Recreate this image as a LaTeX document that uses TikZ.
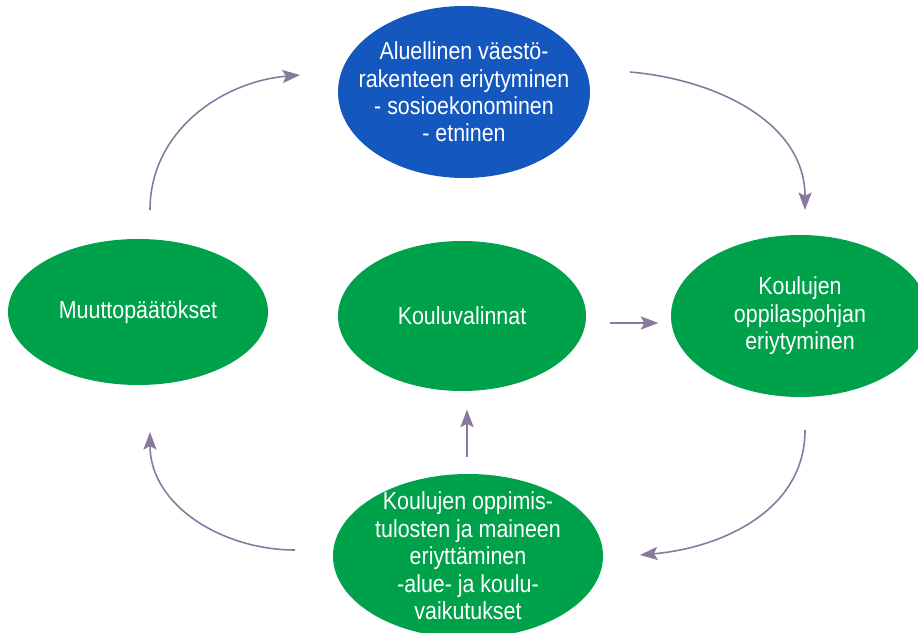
\documentclass[tikz,border=0pt]{standalone}
\usepackage{fontspec}
\setmainfont{Liberation Sans}[FakeStretch=0.87]
\usetikzlibrary{shapes.geometric,arrows.meta}
\definecolor{blueball}{RGB}{20,87,190}
\definecolor{greenball}{RGB}{0,161,75}
\definecolor{arrowgrey}{RGB}{136,122,158}
\begin{document}
\begin{tikzpicture}[
			x=0.02cm, y=0.02cm,
			ball/.style={ellipse, fill=greenball, inner sep=0pt},
			words/.style={text=white, align=center, inner sep=0pt, font=\fontsize{14}{15.6}\selectfont},
			link/.style={-{Stealth[length=10pt,width=7.5pt,inset=2pt]}, arrowgrey, line width=0.9pt}
		]
		\useasboundingbox (0,0) rectangle (918,632);
		\node[ball, fill=blueball, minimum width=252*0.02cm, minimum height=172*0.02cm,
			label={[words]center:Aluellinen väestö-\\rakenteen eriytyminen\\- sosioekonominen\\- etninen}]
		(region) at (464,540) {};
		\node[ball, minimum width=260*0.02cm, minimum height=146*0.02cm,
			label={[words]center:Muuttopäätökset}] (moves) at (138,320) {};
		\node[ball, minimum width=248*0.02cm, minimum height=150*0.02cm,
			label={[words]center:Kouluvalinnat}] (choice) at (462,316) {};
		\node[ball, minimum width=258*0.02cm, minimum height=162*0.02cm,
			label={[words]center:Koulujen\\oppilaspohjan\\eriytyminen}] (pupils) at (800,316) {};
		\node[ball, minimum width=270*0.02cm, minimum height=164*0.02cm,
			label={[words]center:Koulujen oppimis-\\tulosten ja maineen\\eriyttäminen\\-alue- ja koulu-\\vaikutukset}]
		(results) at (468,76) {};

		\coordinate (a1) at (150,422);
		\coordinate (a2) at (300,557);
		\coordinate (b1) at (630,560);
		\coordinate (b2) at (805,422);
		\coordinate (c1) at (805,202);
		\coordinate (c2) at (640,77);
		\coordinate (d1) at (295,82);
		\coordinate (d2) at (150,200);

		\draw[link] (a1) to[out=90, in=185] (a2);
		\draw[link] (b1) to[out=-5, in=90] (b2);
		\draw[link] (c1) to[out=-90, in=5] (c2);
		\draw[link] (d1) to[out=180, in=-90] (d2);
		\draw[link] (choice.east) ++(24,-7) coordinate (e1) -- ++(48,0);
		\draw[link] (results.north) ++(-1,17) coordinate (f1) -- ++(0,47);
	\end{tikzpicture}
\end{document}
